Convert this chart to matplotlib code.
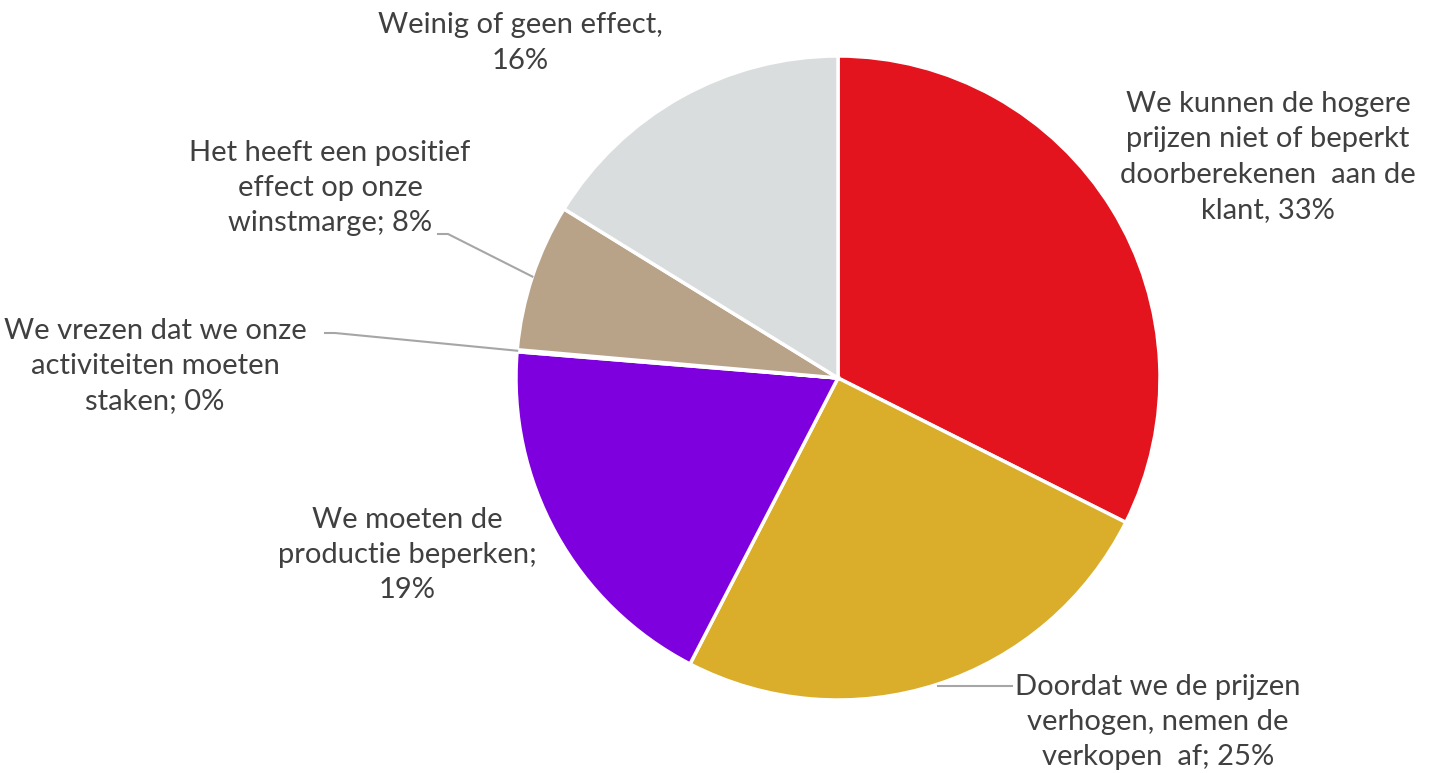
import matplotlib.pyplot as plt
import numpy as np

labels = ["We kunnen de hogere\nprijzen niet of beperkt\ndoorberekenen  aan de\nklant, 33%",
          "Doordat we de prijzen\nverhogen, nemen de\nverkopen  af; 25%",
          "We moeten de\nproductie beperken;\n19%",
          "We vrezen dat we onze\nactiviteiten moeten\nstaken; 0%",
          "Het heeft een positief\neffect op onze\nwinstmarge; 8%",
          "Weinig of geen effect,\n16%"]
values = [32.4, 25.2, 18.7, 0.1, 7.4, 16.2]
colors = ['#E3141E', '#DAAE2A', '#7F00DE', '#7F7F7F', '#B9A388', '#DADDDE']

# label centres (pixel layout, y from top)
label_xy = [(1268, 157), (1158, 722), (407, 555), (155, 366), (330, 188), (520, 43)]
leaders = {1: (1012, 686), 3: (325, 333), 4: (438, 234)}

W, H = 1440, 773
cx, cy, R = 838, 378, 322

fig = plt.figure(figsize=(14.4, 7.73), dpi=100)
ax = fig.add_axes([0, 0, 1, 1])

# y axis is inverted below, so counterclock in data = clockwise on screen
wedges, _ = ax.pie(values, colors=colors, startangle=-90, counterclock=True,
                   center=(cx, cy), radius=R, frame=True,
                   wedgeprops=dict(edgecolor='white', linewidth=2.5))
ax.set_xlim(0, W)
ax.set_ylim(H, 0)
ax.set_aspect('equal')
ax.axis('off')

txt_kw = dict(fontsize=21, color='#404040', ha='center', va='center',
              family=['Lato', 'DejaVu Sans'], linespacing=1.45)
for i, (lab, (tx, ty)) in enumerate(zip(labels, label_xy)):
    ax.text(tx, ty, lab, **txt_kw)
    if i in leaders:
        w = wedges[i]
        mid = np.deg2rad((w.theta1 + w.theta2) / 2)
        ex = cx + R * np.cos(mid)
        ey = cy + R * np.sin(mid)
        lx, ly = leaders[i]
        if i == 1:
            ax.plot([ex, lx], [ly, ly], color='#A6A6A6', lw=1.5)
        else:
            ax.plot([ex, lx + 10, lx], [ey, ly, ly], color='#A6A6A6', lw=1.5)

fig.savefig('out.png', dpi=100)
